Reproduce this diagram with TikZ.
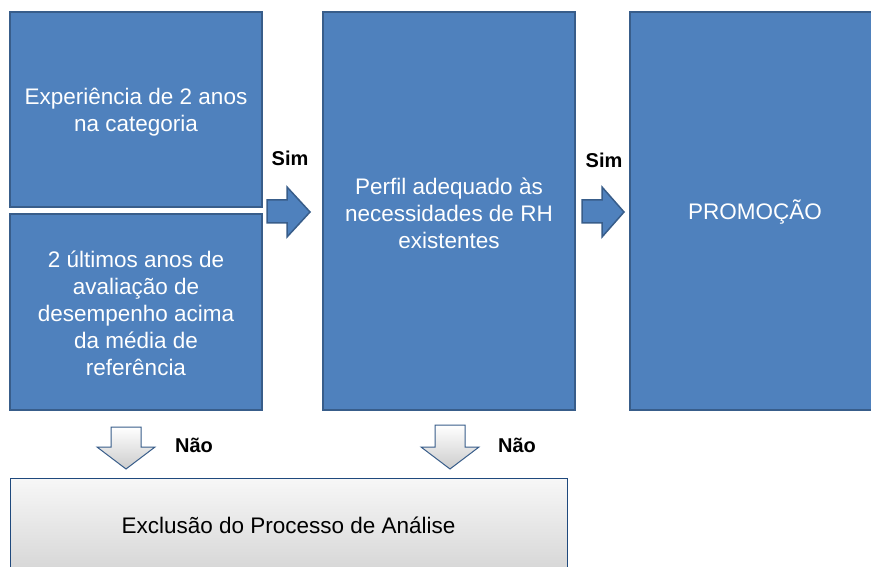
\documentclass[tikz,border=0pt]{standalone}
\usepackage{fontspec}
\setmainfont{Liberation Sans}
\definecolor{boxblue}{RGB}{79,129,189}
\definecolor{boxedge}{RGB}{56,93,138}
\definecolor{darkedge}{RGB}{31,73,125}
\begin{document}
\begin{tikzpicture}[x=1pt,y=-1pt,
  bluebox/.style={draw=boxedge,line width=2pt,fill=boxblue,inner sep=0pt},
  boxtext/.style={text=white,align=center,inner sep=0pt,font=\fontsize{22.5}{27}\selectfont},
  graybox/.style={draw=darkedge,line width=1pt,top color=gray!6,bottom color=gray!32,
    inner sep=0pt},
  rarrow/.style={draw=boxedge,line width=1.5pt,fill=boxblue,line join=miter},
  darrow/.style={draw=boxedge,line width=1pt,top color=white,bottom color=gray!40,line join=miter},
  lbl/.style={font=\fontsize{20}{24}\selectfont\bfseries,text=black,inner sep=0pt}]
\useasboundingbox (0,0) rectangle (871,567);
\clip (0,0) rectangle (871,567);
\fill[white] (0,0) rectangle (871,567);
% boxes
\node[bluebox,minimum width=252pt,minimum height=195pt] (exp) at (136,109.5) {};
\node[boxtext,yshift=-3pt] (exptxt) at (exp.center) {Experiência de 2 anos\\na categoria};
\node[bluebox,minimum width=252pt,minimum height=196pt] (aval) at (136,312) {};
\node[boxtext,yshift=-1pt] (avaltxt) at (aval.center)
  {2 últimos anos de\\avaliação de\\desempenho acima\\da média de\\referência};
\node[bluebox,minimum width=252pt,minimum height=398pt] (perfil) at (449,211) {};
\node[boxtext,yshift=-2pt] (perfiltxt) at (perfil.center)
  {Perfil adequado às\\necessidades de RH\\existentes};
\node[bluebox,minimum width=250pt,minimum height=398pt] (promo) at (755,211) {};
\node[boxtext,yshift=-1pt] (promotxt) at (promo.center) {PROMOÇÃO};
\node[graybox,minimum width=557pt,minimum height=94pt,
  font=\fontsize{22.5}{27}\selectfont] (excl) at (288.5,525)
  {Exclusão do Processo de Análise};
% block arrows
\draw[rarrow] (267,200) -- (287,200) -- (287,187) -- (310,212) -- (287,237)
  -- (287,223) -- (267,223) -- cycle;
\draw[rarrow] (582,200) -- (602,200) -- (602,187) -- (624,212) -- (602,237)
  -- (602,223) -- (582,223) -- cycle;
\draw[darrow] (111,427) -- (141,427) -- (141,447) -- (155,447) -- (126,469)
  -- (97,447) -- (111,447) -- cycle;
\draw[darrow] (435,425) -- (465,425) -- (465,447) -- (479,447) -- (450,469)
  -- (421,447) -- (435,447) -- cycle;
% labels
\node[lbl] (sim1) at (290,158) {Sim};
\node[lbl] (sim2) at (604,160) {Sim};
\node[lbl] (nao1) at (194,445) {Não};
\node[lbl] (nao2) at (517,445) {Não};
\end{tikzpicture}
\end{document}
